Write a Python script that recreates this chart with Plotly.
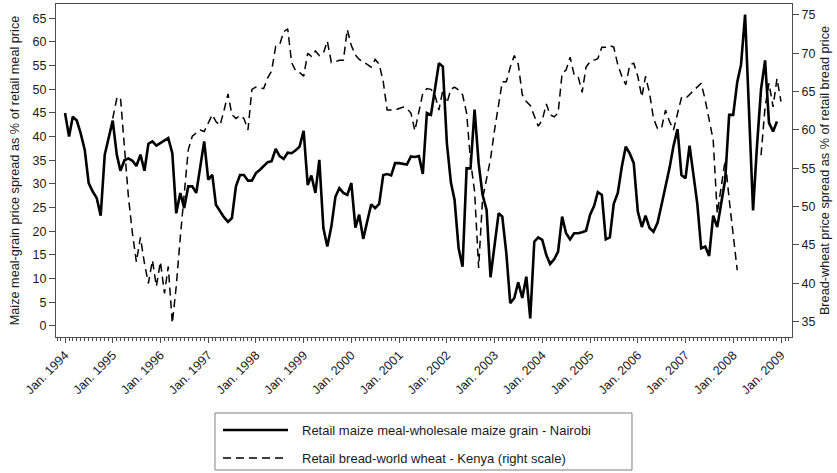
import pandas as pd
import plotly.graph_objects as go

# Monthly observations, Jan. 1994 onward
months = pd.date_range("1994-01-01", periods=181, freq="MS")

# Retail maize meal - wholesale maize grain spread, Nairobi (% of retail meal price)
maize_spread = [
    45.0, 40.0, 44.2, 43.4, 40.7, 37.2, 30.2, 28.4, 27.0, 23.3, 36.2, 40.0,   # 1994
    43.4, 36.2, 32.8, 35.0, 35.4, 34.9, 33.8, 36.2, 32.8, 38.5, 39.0, 38.1,   # 1995
    38.7, 39.2, 39.7, 36.5, 23.8, 28.1, 24.9, 29.5, 29.5, 28.1, 34.0, 39.0,   # 1996
    30.9, 31.9, 25.6, 24.2, 23.0, 22.0, 22.8, 29.5, 31.9, 31.9, 30.7, 30.7,   # 1997
    32.3, 33.0, 33.7, 34.6, 34.8, 37.4, 35.9, 35.3, 36.6, 36.5, 37.1, 37.9,   # 1998
    41.2, 29.8, 31.8, 28.1, 35.1, 20.7, 16.8, 21.0, 27.3, 29.1, 28.1, 27.7,   # 1999
    30.2, 20.8, 23.5, 18.4, 22.0, 25.7, 24.9, 25.8, 31.9, 32.1, 31.8, 34.4,   # 2000
    34.4, 34.2, 34.1, 35.8, 35.7, 35.9, 32.1, 45.0, 44.6, 49.9, 55.5, 54.8,   # 2001
    38.6, 30.3, 26.6, 16.4, 12.5, 33.3, 33.3, 45.7, 34.4, 27.7, 24.5, 10.3,   # 2002
    17.0, 23.8, 23.1, 15.4, 4.8, 5.9, 9.2, 5.9, 10.4, 1.6, 17.8, 18.7,        # 2003
    18.2, 15.0, 13.1, 14.1, 15.7, 23.1, 19.6, 18.3, 19.6, 19.6, 19.8, 20.1,   # 2004
    23.5, 25.4, 28.3, 27.7, 18.3, 18.7, 25.8, 28.1, 33.7, 37.9, 36.4, 34.4,   # 2005
    24.2, 20.9, 23.3, 20.7, 19.9, 21.8, 25.5, 29.3, 33.4, 38.0, 41.6, 31.9,   # 2006
    31.2, 38.1, 31.9, 25.9, 16.4, 16.8, 14.8, 23.3, 20.9, 25.5, 31.0, 44.6,   # 2007
    44.6, 51.5, 55.2, 65.8, 46.0, 24.4, 38.0, 50.0, 56.1, 42.9, 41.1, 43.2,   # 2008
    None,                                                                     # 2009
]

# Retail bread - world wheat spread, Kenya (% of retail bread price, right scale)
wheat_spread = [
    None, None, None, None, None, None, None, None, None, None, None, None,   # 1994
    61.5, 64.1, 64.3, 57.8, 51.3, 46.5, 42.8, 46.0, 42.6, 40.0, 43.0, 39.6,   # 1995
    42.8, 38.7, 42.2, 34.8, 39.6, 46.0, 51.4, 57.4, 59.2, 59.6, 60.0, 59.8,   # 1996
    61.0, 62.0, 61.1, 60.6, 62.5, 64.7, 62.0, 61.5, 61.9, 61.5, 60.0, 65.3,   # 1997
    65.6, 65.5, 65.4, 66.8, 67.7, 70.9, 71.1, 72.8, 73.2, 68.8, 67.7, 67.5,   # 1998
    67.0, 70.0, 69.6, 70.3, 69.7, 70.0, 71.6, 68.8, 68.9, 69.1, 69.1, 73.1,   # 1999
    71.0, 69.8, 69.2, 68.9, 68.6, 68.2, 69.2, 68.6, 66.3, 62.6, 62.6, 62.6,   # 2000
    62.8, 63.0, 62.8, 62.2, 59.9, 62.6, 64.8, 65.4, 65.3, 64.6, 62.6, 65.2,   # 2001
    63.5, 65.3, 65.6, 65.2, 64.6, 62.2, 56.0, 52.0, 42.0, 51.0, 53.5, 56.2,   # 2002
    60.0, 63.5, 66.3, 66.3, 68.2, 69.7, 68.6, 64.6, 63.7, 63.2, 61.9, 60.5,   # 2003
    61.3, 63.4, 62.0, 61.7, 62.2, 67.4, 67.8, 69.5, 67.2, 67.0, 64.9, 68.2,   # 2004
    68.9, 69.1, 69.3, 70.8, 70.8, 71.0, 70.8, 68.5, 67.0, 65.9, 68.5, 68.7,   # 2005
    67.0, 64.3, 67.0, 64.8, 61.5, 60.2, 60.2, 62.6, 61.1, 60.0, 62.2, 64.2,   # 2006
    64.1, 64.6, 65.0, 65.6, 66.1, 63.9, 61.3, 58.7, 49.1, 52.5, 56.1, 51.0,   # 2007
    46.5, 41.7, None, None, None, None, None, 56.7, 63.0, 66.1, 63.0, 66.7,   # 2008
    63.7,                                                                     # 2009
]

series_names = [
    "Retail maize meal-wholesale maize grain - Nairobi",
    "Retail bread-world wheat - Kenya (right scale)",
]
left_title = "Maize meal-grain price spread as % of retail meal price"
right_title = "Bread-wheat price spread as % of retail bread price"

FONT = "Liberation Sans, Arial, Helvetica, sans-serif"
INK = "#1a1a1a"
FRAME = "#4d4d4d"
DASH = "8px,5px"

fig = go.Figure()
fig.add_trace(go.Scatter(
    x=months, y=maize_spread, name=series_names[0], mode="lines",
    line=dict(color="black", width=2.6), connectgaps=False, yaxis="y",
))
fig.add_trace(go.Scatter(
    x=months, y=wheat_spread, name=series_names[1], mode="lines",
    line=dict(color="black", width=1.5, dash=DASH), connectgaps=False, yaxis="y2",
))

axis_common = dict(
    showgrid=False, zeroline=False, showline=True, linecolor=FRAME, linewidth=1,
    ticks="outside", tickcolor=FRAME, tickwidth=1, automargin=False,
    tickfont=dict(family=FONT, size=12.5, color=INK),
)

fig.update_layout(
    width=837, height=473,
    margin=dict(l=56, r=45, t=4, b=136),
    paper_bgcolor="white", plot_bgcolor="white",
    showlegend=False,
    font=dict(family=FONT, color=INK),
    xaxis=dict(
        **axis_common,
        type="date",
        range=["1993-10-24", "2009-03-26"],
        tick0="1994-01-01", dtick="M12", tickformat="Jan. %Y",
        tickangle=-45, ticklen=5, mirror=True,
        minor=dict(tick0="1994-01-01", dtick="M1", ticks="outside",
                   ticklen=3, tickcolor=FRAME, tickwidth=1, showgrid=False),
    ),
    yaxis=dict(
        **axis_common,
        range=[-2.33, 68.02], tick0=0, dtick=5, ticklen=6,
        title=dict(text=left_title, standoff=10,
                   font=dict(family=FONT, size=12.7, color=INK)),
    ),
    yaxis2=dict(
        **axis_common,
        overlaying="y", side="right", anchor="x",
        range=[33.0, 76.43], tick0=35, dtick=5, ticklen=6,
        title=dict(text=right_title, standoff=5,
                   font=dict(family=FONT, size=12.7, color=INK)),
    ),
)

# Legend box below the plot, drawn in paper coordinates
legend_box = dict(x0=0.2160, x1=0.7826, y0=-0.3994, y1=-0.2282)
legend_rows = [-0.2793, -0.3634]
sample_x = (0.2269, 0.3152)
label_x = 0.3315

fig.add_shape(type="rect", xref="paper", yref="paper", **legend_box,
              line=dict(color="#7f7f7f", width=1), fillcolor="white", layer="above")
fig.add_shape(type="line", xref="paper", yref="paper",
              x0=sample_x[0], x1=sample_x[1], y0=legend_rows[0], y1=legend_rows[0],
              line=dict(color="black", width=2.6))
fig.add_shape(type="line", xref="paper", yref="paper",
              x0=sample_x[0], x1=sample_x[1], y0=legend_rows[1], y1=legend_rows[1],
              line=dict(color="black", width=1.5, dash=DASH))
for name, ry in zip(series_names, legend_rows):
    fig.add_annotation(xref="paper", yref="paper", x=label_x, y=ry,
                       xanchor="left", yanchor="middle", text=name, showarrow=False,
                       font=dict(family=FONT, size=13, color=INK))

fig.write_html("out.html")
